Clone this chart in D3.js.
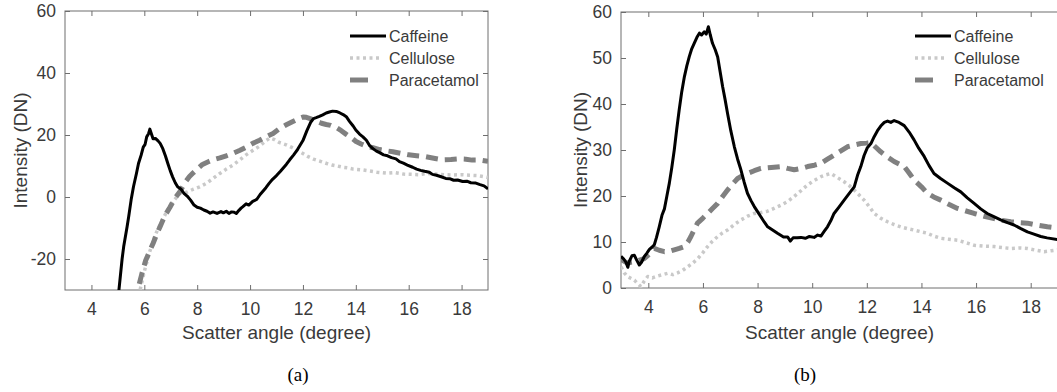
<!DOCTYPE html>
<html>
<head>
<meta charset="utf-8">
<script src="https://cdn.jsdelivr.net/npm/d3@7"></script>
<style>
  body { margin: 0; background: #fff; }
  svg text { font-family: "Liberation Sans", Arial, sans-serif; fill: #3a3a3a; }
  .axis path, .axis line { stroke: #6e6e6e; }
</style>
</head>
<body>
<svg id="chart" width="1057" height="392"></svg>
<script>
// x ticks (scatter angle, degree)
var angleTicks = [4, 6, 8, 10, 12, 14, 16, 18];
var yTicksA = [-20, 0, 20, 40, 60];
var yTicksB = [0, 10, 20, 30, 40, 50, 60];
var seriesNames = ["Caffeine", "Cellulose", "Paracetamol"];

// panel (a): [angle, intensity]
var caffeineA = [[5.0,-34],[5.04,-30],[5.16,-20],[5.22,-16],[5.35,-9.5],[5.41,-6.3],[5.5,-1],[5.59,3.3],[5.7,7.5],[5.78,10.8],
  [5.88,13.5],[5.96,16.1],[6.03,17],[6.09,19.4],[6.16,20.4],[6.21,21.9],[6.27,20.3],[6.33,18.8],[6.42,18.9],[6.52,18.1],[6.6,17.3],
  [6.7,15.6],[6.8,13.2],[6.89,10.8],[6.98,8.5],[7.07,6.5],[7.17,4.6],[7.26,3.3],[7.38,2.6],[7.5,1.2],[7.62,0.3],[7.75,-1],[7.88,-2.6],
  [8.0,-3.3],[8.12,-3.6],[8.25,-4.2],[8.37,-4.6],[8.49,-5.2],[8.6,-4.8],[8.75,-5.3],[8.9,-4.7],[8.99,-5.1],[9.1,-4.6],[9.2,-5.3],
  [9.3,-4.8],[9.4,-4.9],[9.48,-5.3],[9.58,-4.3],[9.66,-3.6],[9.73,-3.1],[9.85,-2.2],[9.95,-2.6],[10.1,-1.4],[10.25,-0.8],[10.38,0.8],
  [10.47,1.7],[10.6,3.0],[10.72,4.4],[10.85,5.7],[11.0,6.9],[11.15,8.3],[11.37,10.5],[11.5,12.0],[11.65,13.6],[11.8,15.4],[12.0,18.2],
  [12.15,21.4],[12.3,24.2],[12.4,25.3],[12.5,25.6],[12.62,26.0],[12.75,26.5],[12.88,27.1],[13.0,27.4],[13.12,27.7],[13.26,27.6],
  [13.4,27.1],[13.52,26.6],[13.64,25.9],[13.76,24.4],[13.9,22.9],[14.0,21.6],[14.14,20.3],[14.27,19.4],[14.4,18.3],[14.52,16.6],
  [14.65,15.6],[14.78,14.8],[14.9,14.3],[15.05,13.6],[15.2,13.3],[15.35,12.7],[15.52,12.3],[15.65,11.4],[15.8,10.9],[15.95,10.3],
  [16.15,9.6],[16.3,9.0],[16.45,8.6],[16.6,8.3],[16.78,8.0],[16.9,7.3],[17.05,7.0],[17.2,6.6],[17.4,6.0],[17.55,5.9],[17.7,5.4],
  [17.85,5.5],[18.04,5.0],[18.2,5.1],[18.35,4.6],[18.54,4.5],[18.7,4.0],[18.85,3.6],[19.0,2.6]];
var celluloseA = [[5.75,-34],[5.84,-30],[6.0,-24],[6.21,-17.5],[6.4,-12.5],[6.59,-9],[6.8,-5.5],[6.97,-3],[7.15,-0.8],[7.35,1.2],
  [7.6,1.5],[7.85,2.5],[8.1,3.3],[8.35,4.4],[8.6,6.0],[8.86,7.6],[9.1,9.0],[9.35,10.3],[9.6,11.9],[9.85,13.6],[10.1,15.0],
  [10.36,16.4],[10.6,18.2],[10.75,19.0],[10.9,18.6],[11.1,17.6],[11.37,16.8],[11.6,15.9],[11.8,15.0],[12.0,14.0],[12.2,13.0],
  [12.4,12.2],[12.63,11.6],[12.9,10.8],[13.1,10.3],[13.3,10.0],[13.5,9.6],[13.7,9.4],[13.9,9.0],[14.2,8.8],[14.52,8.4],
  [14.8,8.0],[15.15,7.7],[15.45,7.9],[15.8,7.4],[16.1,7.3],[16.4,7.2],[16.7,7.6],[17.03,7.4],[17.35,7.2],[17.65,7.1],[18.0,7.2],
  [18.3,7.0],[18.6,6.9],[19.0,6.3]];
var paracetamolA = [[5.65,-34],[5.75,-30],[5.9,-25],[6.05,-20.5],[6.2,-17.5],[6.33,-15],[6.47,-12],[6.6,-9.5],[6.78,-6],
  [6.97,-3.3],[7.15,-0.5],[7.35,1.8],[7.55,4.8],[7.7,6.5],[7.85,7.8],[8.0,9.0],[8.2,10.5],[8.4,11.3],[8.6,12.0],[8.86,12.6],
  [9.1,13.3],[9.36,14.1],[9.6,15.0],[9.86,16.1],[10.1,17.3],[10.36,18.3],[10.6,19.4],[10.87,20.5],[11.1,22.0],[11.37,23.3],
  [11.6,24.3],[11.87,25.4],[12.0,25.8],[12.13,25.7],[12.3,25.2],[12.5,24.5],[12.7,23.8],[12.88,23.4],[13.05,23.1],[13.26,22.4],
  [13.45,21.4],[13.64,20.2],[13.85,19.0],[14.01,17.9],[14.2,17.1],[14.4,16.4],[14.65,15.9],[14.9,15.3],[15.15,14.9],[15.4,14.6],
  [15.7,14.1],[16.0,13.6],[16.3,13.3],[16.65,13.0],[16.95,12.5],[17.28,12.0],[17.6,12.1],[17.9,12.3],[18.16,12.2],[18.4,11.9],
  [18.7,11.9],[19.0,11.5]];

// panel (b): [angle, intensity]
var caffeineB = [[3.0,6.9],[3.1,6.3],[3.18,5.6],[3.25,4.5],[3.3,5.8],[3.4,7.0],[3.49,7.1],[3.58,6.0],[3.67,5.0],[3.75,5.6],
  [3.85,6.8],[3.95,7.6],[4.04,8.4],[4.12,8.8],[4.22,9.4],[4.3,11.0],[4.4,13.3],[4.5,15.8],[4.59,17.2],[4.68,20.0],[4.77,22.8],
  [4.86,26.2],[4.95,30.0],[5.04,34.5],[5.13,38.7],[5.22,42.5],[5.32,45.9],[5.41,48.3],[5.5,50.3],[5.59,52.0],[5.68,53.2],
  [5.78,54.5],[5.87,55.4],[5.95,55.0],[6.05,55.7],[6.12,55.2],[6.2,56.8],[6.27,55.0],[6.35,53.2],[6.45,51.8],[6.54,50.2],
  [6.63,47.0],[6.72,43.8],[6.81,41.0],[6.9,38.0],[7.02,34.2],[7.15,30.7],[7.27,28.0],[7.39,25.7],[7.51,23.0],[7.63,20.6],
  [7.76,19.0],[7.88,17.7],[8.0,16.6],[8.12,15.5],[8.25,14.3],[8.37,13.3],[8.55,12.6],[8.73,11.9],[8.95,11.1],[9.1,11.1],
  [9.2,10.2],[9.3,10.9],[9.45,10.9],[9.59,11.0],[9.75,10.8],[9.9,11.2],[10.07,11.0],[10.2,11.5],[10.32,11.3],[10.45,12.4],
  [10.56,13.3],[10.68,14.6],[10.8,16.2],[10.98,17.6],[11.17,19.1],[11.35,20.5],[11.54,22.0],[11.66,24.5],[11.78,26.4],
  [11.9,28.8],[12.02,30.5],[12.15,31.4],[12.27,32.9],[12.39,34.2],[12.51,35.2],[12.64,36.0],[12.76,36.3],[12.88,36.0],
  [13.0,36.4],[13.18,36.0],[13.37,35.3],[13.55,33.9],[13.73,32.2],[13.9,30.4],[14.1,28.6],[14.28,26.6],[14.46,24.9],
  [14.7,23.8],[14.95,22.8],[15.2,21.8],[15.44,20.9],[15.68,19.6],[15.93,18.4],[16.17,17.2],[16.41,16.2],[16.65,15.5],
  [16.9,14.8],[17.15,14.2],[17.39,13.7],[17.64,12.9],[17.88,12.2],[18.12,11.7],[18.37,11.2],[18.6,10.9],[19.0,10.5]];
var celluloseB = [[3.0,4.6],[3.12,3.3],[3.24,2.5],[3.36,2.1],[3.49,1.7],[3.6,1.0],[3.73,0.3],[3.85,1.5],[3.98,2.5],[4.15,2.2],
  [4.34,2.6],[4.52,2.9],[4.71,3.2],[4.9,2.9],[5.07,3.3],[5.25,3.8],[5.44,4.6],[5.6,5.3],[5.8,6.3],[6.0,7.7],[6.17,9.0],[6.35,10.2],
  [6.54,11.2],[6.72,12.0],[6.9,12.6],[7.15,13.8],[7.39,14.8],[7.63,15.6],[7.88,16.2],[8.12,16.4],[8.37,16.7],[8.6,17.3],
  [8.85,18.0],[9.1,18.8],[9.34,19.9],[9.6,21.2],[9.83,22.4],[10.08,23.4],[10.32,24.2],[10.5,24.6],[10.68,24.9],[10.9,24.1],
  [11.17,23.1],[11.35,22.3],[11.54,21.3],[11.72,20.2],[11.9,19.1],[12.1,17.6],[12.27,16.2],[12.5,15.2],[12.76,14.4],[13.0,13.8],
  [13.24,13.3],[13.5,12.9],[13.73,12.6],[14.0,12.2],[14.22,11.9],[14.45,11.3],[14.71,10.8],[15.0,10.6],[15.32,10.4],[15.6,9.9],
  [15.93,9.3],[16.3,9.1],[16.66,9.0],[16.95,8.8],[17.27,8.6],[17.58,8.7],[17.88,8.6],[18.2,8.2],[18.49,7.9],[18.75,8.1],[19.0,8.3]];
var paracetamolB = [[3.0,6.2],[3.12,5.8],[3.24,5.4],[3.36,5.6],[3.49,5.7],[3.65,6.0],[3.85,6.4],[4.05,7.4],[4.22,8.6],[4.4,8.2],
  [4.59,7.9],[4.78,8.0],[4.95,8.3],[5.13,8.6],[5.32,9.0],[5.45,10.0],[5.56,11.2],[5.68,12.7],[5.8,14.1],[6.0,15.2],[6.17,16.2],
  [6.35,17.3],[6.54,18.4],[6.72,19.9],[6.9,21.3],[7.1,22.7],[7.27,23.8],[7.45,24.4],[7.63,24.9],[7.88,25.5],[8.12,26.0],
  [8.5,26.2],[8.85,26.4],[9.1,26.0],[9.34,25.7],[9.6,26.0],[9.83,26.4],[10.08,26.7],[10.32,27.1],[10.56,28.0],[10.8,28.9],
  [11.05,29.8],[11.29,30.7],[11.55,31.1],[11.78,31.4],[12.0,31.5],[12.15,31.6],[12.33,30.6],[12.51,29.6],[12.75,28.5],
  [13.0,27.5],[13.2,26.9],[13.37,26.4],[13.55,25.0],[13.73,23.5],[14.0,22.0],[14.22,20.6],[14.45,19.8],[14.71,19.1],[15.0,18.2],
  [15.32,17.3],[15.6,16.8],[15.93,16.2],[16.3,15.6],[16.66,15.1],[16.95,14.7],[17.27,14.4],[17.58,14.2],[17.88,14.1],[18.2,13.7],
  [18.61,13.3],[19.0,13.0]];

var svg = d3.select("#chart");

var styles = {
  "Caffeine":    { color: "#000000", width: 3,   dash: null },
  "Cellulose":   { color: "#c9c9c9", width: 3.5, dash: "3,3.5" },
  "Paracetamol": { color: "#808080", width: 5,   dash: "12,7" }
};

var panels = [
  { id: "a", x0: 65, x1: 488, y0: 11, y1: 290, yDomain: [-30, 60], yTicks: yTicksA, mirrorRight: true,
    data: [caffeineA, celluloseA, paracetamolA], ylabelX: 20, legendX: 350, caption: "(a)", captionX: 298 },
  { id: "b", x0: 621, x1: 1058, y0: 12, y1: 288, yDomain: [0, 60], yTicks: yTicksB, mirrorRight: false,
    data: [caffeineB, celluloseB, paracetamolB], ylabelX: 579.5, legendX: 915, caption: "(b)", captionX: 805 }
];

// plain hyphen for negatives, like the original
var plainNum = function(d) { return String(d); };

panels.forEach(function(p) {
  var x = d3.scaleLinear().domain([3, 19]).range([p.x0, p.x1]);
  var y = d3.scaleLinear().domain(p.yDomain).range([p.y1, p.y0]);
  var g = svg.append("g").attr("class", "panel-" + p.id);

  g.append("clipPath").attr("id", "clip-" + p.id)
    .append("rect")
    .attr("x", p.x0).attr("y", p.y0)
    .attr("width", p.x1 - p.x0).attr("height", p.y1 - p.y0);

  // ticks pointing inwards, mirrored on top (and right for panel a)
  g.append("g").attr("class", "axis")
    .attr("transform", "translate(0," + p.y1 + ")")
    .call(d3.axisBottom(x).tickValues(angleTicks).tickFormat(plainNum).tickSizeInner(-5).tickSizeOuter(0).tickPadding(13))
    .call(function(s) { s.select(".domain").remove(); });
  g.append("g").attr("class", "axis")
    .attr("transform", "translate(0," + p.y0 + ")")
    .call(d3.axisTop(x).tickValues(angleTicks).tickSizeInner(-5).tickSizeOuter(0).tickFormat(""))
    .call(function(s) { s.select(".domain").remove(); });
  g.append("g").attr("class", "axis")
    .attr("transform", "translate(" + p.x0 + ",0)")
    .call(d3.axisLeft(y).tickValues(p.yTicks).tickFormat(plainNum).tickSizeInner(-5).tickSizeOuter(0).tickPadding(9))
    .call(function(s) { s.select(".domain").remove(); });
  if (p.mirrorRight) {
    g.append("g").attr("class", "axis")
      .attr("transform", "translate(" + p.x1 + ",0)")
      .call(d3.axisRight(y).tickValues(p.yTicks).tickSizeInner(-5).tickSizeOuter(0).tickFormat(""))
      .call(function(s) { s.select(".domain").remove(); });
  }
  g.selectAll(".axis text").style("font-size", "17.5px").attr("fill", "#3a3a3a");

  g.append("rect")
    .attr("x", p.x0).attr("y", p.y0)
    .attr("width", p.x1 - p.x0).attr("height", p.y1 - p.y0)
    .attr("fill", "none").attr("stroke", "#6e6e6e").attr("stroke-width", 1);

  var line = d3.line()
    .x(function(d) { return x(d[0]); })
    .y(function(d) { return y(d[1]); });

  var order = [1, 2, 0]; // cellulose under paracetamol under caffeine
  order.forEach(function(i) {
    var st = styles[seriesNames[i]];
    g.append("path")
      .datum(p.data[i])
      .attr("clip-path", "url(#clip-" + p.id + ")")
      .attr("fill", "none")
      .attr("stroke", st.color)
      .attr("stroke-width", st.width)
      .attr("stroke-dasharray", st.dash)
      .attr("stroke-linejoin", "round")
      .attr("d", line);
  });

  // legend
  var legendLen = [36, 32, 18];
  var leg = g.append("g").attr("class", "legend");
  seriesNames.forEach(function(name, i) {
    var st = styles[name];
    var ly = 36 + i * 22;
    leg.append("line")
      .attr("x1", p.legendX).attr("x2", p.legendX + legendLen[i])
      .attr("y1", ly).attr("y2", ly)
      .attr("stroke", st.color)
      .attr("stroke-width", st.width)
      .attr("stroke-dasharray", i == 1 ? "3,3.5" : null);
    leg.append("text")
      .attr("x", p.legendX + 39).attr("y", ly + 6)
      .style("font-size", "16px")
      .text(name);
  });

  g.append("text")
    .attr("x", (p.x0 + p.x1) / 2).attr("y", 339)
    .attr("text-anchor", "middle")
    .style("font-size", "19px")
    .text("Scatter angle (degree)");

  g.append("text")
    .attr("transform", "translate(" + (p.ylabelX + 7) + "," + ((p.y0 + p.y1) / 2) + ") rotate(-90)")
    .attr("text-anchor", "middle")
    .style("font-size", "19px")
    .text("Intensity (DN)");

  g.append("text")
    .attr("x", p.captionX).attr("y", 381)
    .attr("text-anchor", "middle")
    .style("font-family", "'Liberation Serif', 'Times New Roman', serif")
    .style("font-size", "19px")
    .style("fill", "#000")
    .text(p.caption);
});
</script>
</body>
</html>
